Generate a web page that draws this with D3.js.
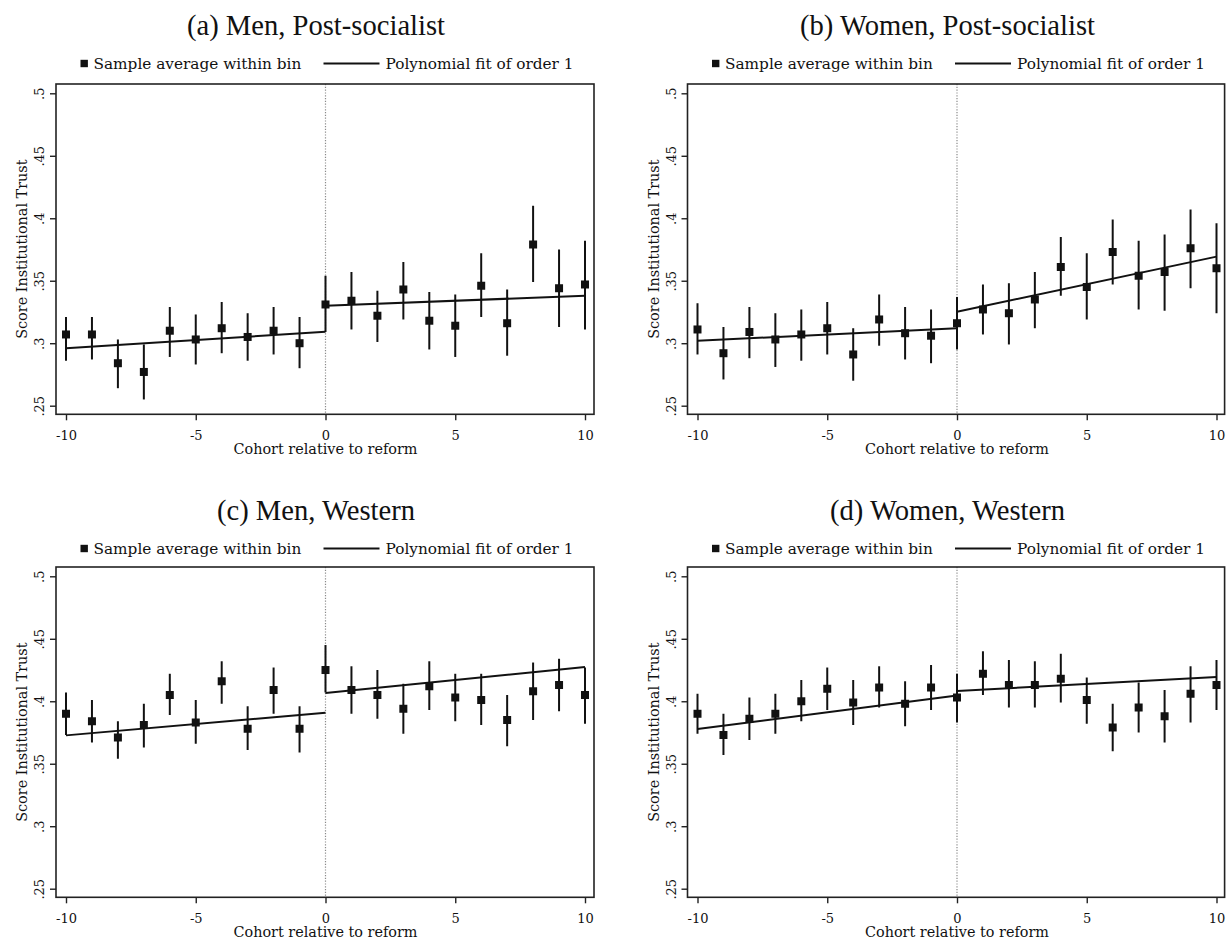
<!DOCTYPE html>
<html>
<head>
<meta charset="utf-8">
<script src="https://cdn.jsdelivr.net/npm/d3@7"></script>
<style>
  body { margin: 0; background: #fff; }
  svg { display: block; }
  .tick text { fill: #111; }
</style>
</head>
<body>
<svg id="chart" width="1226" height="939"></svg>
<script>
// categories / ticks
const cohorts = [-10, -9, -8, -7, -6, -5, -4, -3, -2, -1, 0, 1, 2, 3, 4, 5, 6, 7, 8, 9, 10];
const xTicks = [-10, -5, 0, 5, 10];
const xTickLabels = ["-10", "-5", "0", "5", "10"];
const yTicks = [0.25, 0.3, 0.35, 0.4, 0.45, 0.5];
const yTickLabels = [".25", ".3", ".35", ".4", ".45", ".5"];
const titles = ["(a) Men, Post-socialist", "(b) Women, Post-socialist", "(c) Men, Western", "(d) Women, Western"];
const legendLabels = ["Sample average within bin", "Polynomial fit of order 1"];
const xTitle = "Cohort relative to reform";
const yTitle = "Score Institutional Trust";

// (a) Men, Post-socialist
const meanA = [.307, .307, .284, .277, .310, .303, .312, .305, .310, .300, .331, .334, .322, .343, .318, .314, .346, .316, .379, .344, .347];
const loA = [.286, .287, .264, .255, .289, .283, .292, .286, .291, .280, .309, .311, .301, .319, .295, .289, .321, .290, .349, .313, .311];
const hiA = [.321, .321, .303, .299, .329, .323, .333, .324, .329, .321, .354, .357, .342, .365, .341, .339, .372, .343, .410, .375, .382];
const fitA = [.2959, .3092, .3300, .3380];

// (b) Women, Post-socialist
const meanB = [.311, .292, .309, .303, .307, .312, .291, .319, .308, .306, .316, .327, .324, .335, .361, .345, .373, .354, .357, .376, .360];
const loB = [.291, .271, .288, .281, .286, .291, .270, .298, .287, .284, .295, .307, .299, .312, .338, .319, .347, .327, .326, .344, .324];
const hiB = [.332, .313, .329, .324, .327, .333, .312, .339, .329, .327, .337, .347, .348, .357, .385, .372, .399, .382, .387, .407, .396];
const fitB = [.3020, .3119, .3252, .3693];

// (c) Men, Western
const meanC = [.390, .384, .371, .381, .405, .383, .416, .378, .409, .378, .425, .409, .405, .394, .412, .403, .401, .385, .408, .413, .405];
const loC = [.373, .367, .354, .363, .389, .366, .398, .361, .390, .359, .407, .390, .386, .374, .393, .384, .381, .364, .385, .392, .382];
const hiC = [.407, .401, .384, .398, .422, .401, .432, .396, .427, .396, .445, .428, .425, .414, .432, .422, .422, .405, .431, .434, .427];
const fitC = [.3727, .3909, .4066, .4274];

// (d) Women, Western
const meanD = [.390, .373, .386, .390, .400, .410, .399, .411, .398, .411, .403, .422, .413, .413, .418, .401, .379, .395, .388, .406, .413];
const loD = [.374, .357, .369, .374, .384, .393, .381, .395, .380, .393, .383, .405, .395, .395, .399, .382, .360, .375, .367, .383, .393];
const hiD = [.406, .390, .403, .406, .417, .427, .417, .428, .416, .429, .422, .440, .433, .432, .438, .419, .398, .415, .409, .428, .433];
const fitD = [.3778, .4047, .4082, .4194];

const fitX = [[-10, 0], [0, 10]];

const panels = [
  { title: titles[0], mean: meanA, lo: loA, hi: hiA, fit: fitA, col: 0, row: 0 },
  { title: titles[1], mean: meanB, lo: loB, hi: hiB, fit: fitB, col: 1, row: 0 },
  { title: titles[2], mean: meanC, lo: loC, hi: hiC, fit: fitC, col: 0, row: 1 },
  { title: titles[3], mean: meanD, lo: loD, hi: hiD, fit: fitD, col: 1, row: 1 },
];

const svg = d3.select("#chart");
const ink = "#111";
const serif = "'DejaVu Serif', 'Liberation Serif', serif";
const titleFont = "'Liberation Serif', 'Times New Roman', serif";

panels.forEach((p) => {
  const cx = p.col * 631.5;
  const ry = p.row * 483;
  const frame = {
    left: 56 + cx,
    right: Math.min(594 + cx, 1224.6),
    top: 84 + ry,
    bottom: 414.3 + ry,
  };

  const x = d3.scaleLinear().domain([-10, 10]).range([66 + cx, 585 + cx]);
  const y = d3.scaleLinear().domain([0.25, 0.5]).range([405.7 + ry, 93.3 + ry]);

  const g = svg.append("g");

  // title
  g.append("text")
    .attr("x", 316 + cx)
    .attr("y", 35 + p.row * 485)
    .attr("text-anchor", "middle")
    .attr("font-family", titleFont)
    .attr("font-size", "28.6px")
    .attr("fill", ink)
    .text(p.title);

  // legend
  const ly = 63.5 + p.row * 485;
  const x0 = x(0);
  g.append("rect")
    .attr("x", x0 - 245)
    .attr("y", ly - 3.7)
    .attr("width", 7.4)
    .attr("height", 7.4)
    .attr("fill", ink);
  g.append("text")
    .attr("x", x0 - 232)
    .attr("y", ly + 5)
    .attr("font-family", serif)
    .attr("font-size", "15.3px")
    .attr("fill", ink)
    .text(legendLabels[0]);
  g.append("line")
    .attr("x1", x0 - 2)
    .attr("x2", x0 + 54)
    .attr("y1", ly)
    .attr("y2", ly)
    .attr("stroke", ink)
    .attr("stroke-width", 2);
  g.append("text")
    .attr("x", x0 + 60)
    .attr("y", ly + 5)
    .attr("font-family", serif)
    .attr("font-size", "15.3px")
    .attr("fill", ink)
    .text(legendLabels[1]);

  // dotted reform line
  g.append("line")
    .attr("x1", x(0))
    .attr("x2", x(0))
    .attr("y1", frame.top)
    .attr("y2", frame.bottom)
    .attr("stroke", "#8a8a8a")
    .attr("stroke-width", 1.2)
    .attr("stroke-dasharray", "1.2,1.6");

  // error bars
  g.append("g")
    .selectAll("line")
    .data(cohorts)
    .enter()
    .append("line")
    .attr("x1", (d) => x(d))
    .attr("x2", (d) => x(d))
    .attr("y1", (d, i) => y(p.lo[i]))
    .attr("y2", (d, i) => y(p.hi[i]))
    .attr("stroke", ink)
    .attr("stroke-width", 2);

  // fitted lines
  const line = d3
    .line()
    .x((d) => x(d[0]))
    .y((d) => y(d[1]));
  fitX.forEach((seg, k) => {
    g.append("path")
      .datum([[seg[0], p.fit[2 * k]], [seg[1], p.fit[2 * k + 1]]])
      .attr("fill", "none")
      .attr("stroke", ink)
      .attr("stroke-width", 2)
      .attr("d", line);
  });

  // bin averages
  g.append("g")
    .selectAll("rect")
    .data(cohorts)
    .enter()
    .append("rect")
    .attr("x", (d) => x(d) - 4)
    .attr("y", (d, i) => y(p.mean[i]) - 4)
    .attr("width", 8)
    .attr("height", 8)
    .attr("fill", ink);

  // frame
  g.append("rect")
    .attr("x", frame.left)
    .attr("y", frame.top)
    .attr("width", frame.right - frame.left)
    .attr("height", frame.bottom - frame.top)
    .attr("fill", "none")
    .attr("stroke", "#222")
    .attr("stroke-width", 1.6);

  // x axis
  g.append("g")
    .attr("transform", `translate(0, ${frame.bottom})`)
    .call(
      d3.axisBottom(x)
        .tickValues(xTicks)
        .tickSize(6)
        .tickFormat((d) => xTickLabels[xTicks.indexOf(d)])
    )
    .call((a) => a.select(".domain").remove())
    .call((a) => a.selectAll("line").attr("stroke", "#222").attr("stroke-width", 1.4))
    .call((a) =>
      a.selectAll("text")
        .attr("y", 25.7)
        .attr("dy", null)
        .attr("font-family", serif)
        .attr("font-size", "13px")
    );

  // y axis
  g.append("g")
    .attr("transform", `translate(${frame.left}, 0)`)
    .call(
      d3.axisLeft(y)
        .tickValues(yTicks)
        .tickSize(6)
        .tickFormat((d) => yTickLabels[yTicks.indexOf(d)])
    )
    .call((a) => a.select(".domain").remove())
    .call((a) => a.selectAll("line").attr("stroke", "#222").attr("stroke-width", 1.4))
    .call((a) =>
      a.selectAll("text")
        .attr("x", 0)
        .attr("dy", null)
        .attr("transform", "translate(-12,0) rotate(-90)")
        .attr("text-anchor", "middle")
        .attr("font-family", serif)
        .attr("font-size", "13px")
    );

  // axis titles
  g.append("text")
    .attr("x", x(0))
    .attr("y", frame.bottom + 40)
    .attr("text-anchor", "middle")
    .attr("font-family", serif)
    .attr("font-size", "14.4px")
    .attr("fill", ink)
    .text(xTitle);
  g.append("text")
    .attr("transform", `translate(${27.3 + cx}, ${(frame.top + frame.bottom) / 2}) rotate(-90)`)
    .attr("text-anchor", "middle")
    .attr("font-family", serif)
    .attr("font-size", "14.4px")
    .attr("fill", ink)
    .text(yTitle);
});
</script>
</body>
</html>
